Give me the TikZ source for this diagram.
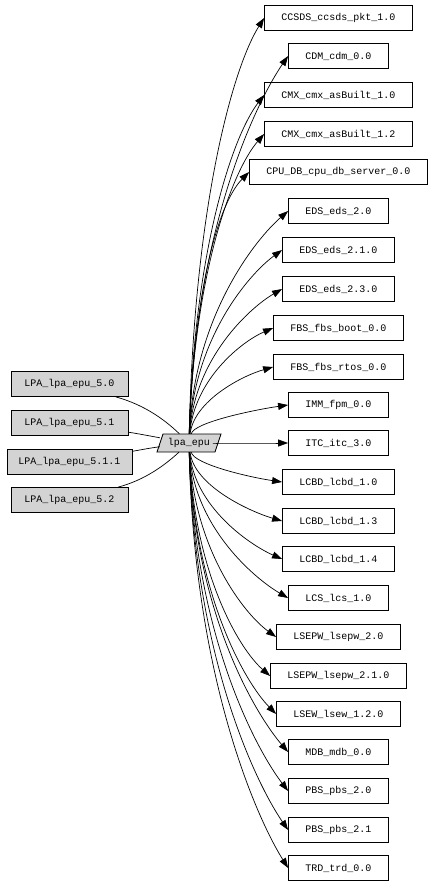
\documentclass[tikz,border=0pt]{standalone}
\usepackage{fontspec}
\setmainfont{Liberation Mono}
\usetikzlibrary{arrows.meta,calc}
\definecolor{nodegray}{HTML}{D3D3D3}
\begin{document}
\begin{tikzpicture}[x=1pt,y=-1pt,
  box/.style={draw,line width=0.8pt,font=\fontsize{10}{12}\selectfont,minimum height=25pt,inner xsep=17pt,inner ysep=0pt},
  src/.style={box,fill=nodegray,inner xsep=4pt,minimum width=117pt},
  ctr/.style={font=\fontsize{10}{12}\selectfont,minimum height=18pt,minimum width=58pt,inner sep=0pt},
  outline/.style={draw,line width=0.8pt,fill=nodegray},
  dep/.style={line width=0.7pt,-{Triangle[length=10pt,width=7pt]}},
  lnk/.style={line width=0.7pt}]
\useasboundingbox (0,0) rectangle (434,885);
\coordinate (ptl) at (163,434);
\coordinate (ptr) at (221,434);
\coordinate (pbr) at (215,452);
\coordinate (pbl) at (157,452);
\draw[outline] (ptl) -- (ptr) -- (pbr) -- (pbl) -- cycle;
\node[ctr] (lpa) at (189,443) {lpa\_epu};
\node[src] (l1) at (69.5,384) {LPA\_lpa\_epu\_5.0};
\node[src] (l2) at (69.5,423) {LPA\_lpa\_epu\_5.1};
\node[src,minimum width=125pt] (l3) at (69.5,462) {LPA\_lpa\_epu\_5.1.1};
\node[src] (l4) at (69.5,500) {LPA\_lpa\_epu\_5.2};
\draw[lnk] (l1) .. controls (145,405) and (165,420) .. (lpa);
\draw[lnk] (l2) .. controls (140,434) and (150,436) .. (lpa);
\draw[lnk] (l3) .. controls (140,450) and (150,448) .. (lpa);
\draw[lnk] (l4) .. controls (145,480) and (165,465) .. (lpa);
\foreach \i/\yy/\lbl in {
  1/18/CCSDS\_ccsds\_pkt\_1.0,
  2/56/CDM\_cdm\_0.0,
  3/95/CMX\_cmx\_asBuilt\_1.0,
  4/134/CMX\_cmx\_asBuilt\_1.2,
  5/172/CPU\_DB\_cpu\_db\_server\_0.0,
  6/211/EDS\_eds\_2.0,
  7/250/EDS\_eds\_2.1.0,
  8/289/EDS\_eds\_2.3.0,
  9/328/FBS\_fbs\_boot\_0.0,
  10/367/FBS\_fbs\_rtos\_0.0,
  11/405/IMM\_fpm\_0.0,
  12/443/ITC\_itc\_3.0,
  13/482/LCBD\_lcbd\_1.0,
  14/521/LCBD\_lcbd\_1.3,
  15/559/LCBD\_lcbd\_1.4,
  16/598/LCS\_lcs\_1.0,
  17/637/LSEPW\_lsepw\_2.0,
  18/676/LSEPW\_lsepw\_2.1.0,
  19/714/LSEW\_lsew\_1.2.0,
  20/752/MDB\_mdb\_0.0,
  21/791/PBS\_pbs\_2.0,
  22/830/PBS\_pbs\_2.1,
  23/868/TRD\_trd\_0.0}{
  \node[box] (n\i) at (338.5,\yy) {\lbl};
  \pgfmathsetmacro{\ca}{443+(\yy-443)*0.55}
  \pgfmathsetmacro{\cb}{(443-\yy)*0.12}
  \draw[dep] (lpa) .. controls (194,\ca) and ($(n\i.west)+(-32,\cb)$) .. (n\i.west);
}
\end{tikzpicture}
\end{document}
